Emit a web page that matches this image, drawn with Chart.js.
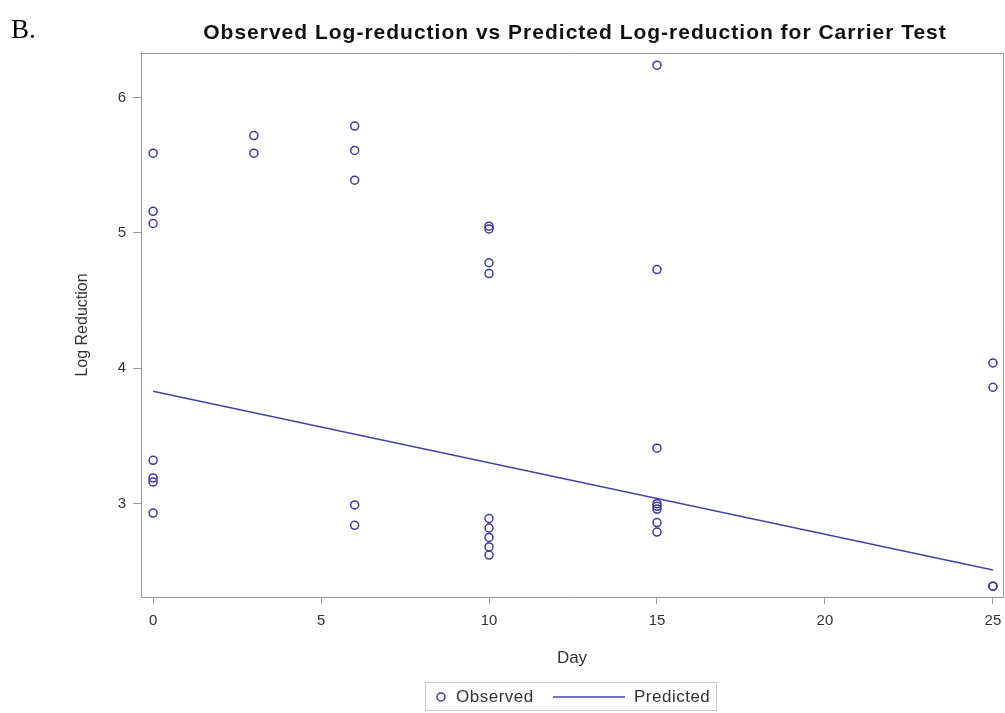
<!DOCTYPE html>
<html><head><meta charset="utf-8">
<script src="https://cdn.jsdelivr.net/npm/chart.js@4"></script>
<style>html,body{margin:0;padding:0;background:#fff}#wrap{width:1005px;height:713px;position:relative}</style>
</head><body><div id="wrap"><canvas id="c" width="1005" height="713"></canvas></div>
<script>
const titleText = "Observed Log-reduction vs Predicted Log-reduction for Carrier Test";
const panelLabel = "B.";
const xAxisTitle = "Day";
const yAxisTitle = "Log Reduction";
const xTickValues = [0, 5, 10, 15, 20, 25];
const yTickValues = [3, 4, 5, 6];
const seriesNames = ["Observed", "Predicted"];

const obsDay = [0, 0, 0, 0, 0, 0, 0,
                3, 3,
                6, 6, 6, 6, 6,
                10, 10, 10, 10, 10, 10, 10, 10, 10,
                15, 15, 15, 15, 15, 15, 15, 15,
                25, 25, 25, 25];
const obsLogRed = [5.59, 5.16, 5.07, 3.32, 3.19, 3.16, 2.93,
                   5.72, 5.59,
                   5.79, 5.61, 5.39, 2.99, 2.84,
                   5.05, 5.03, 4.78, 4.70, 2.89, 2.82, 2.75, 2.68, 2.62,
                   6.24, 4.73, 3.41, 3.00, 2.98, 2.96, 2.86, 2.79,
                   4.04, 3.86, 2.39, 2.39];
const predDay = [0, 25];
const predLogRed = [3.83, 2.51];

const obsColor = '#3a3a9c';
const predColor = '#4343a8';
const axisColor = '#9a9a9a';
const textColor = '#333333';

const decor = {
  id: 'decor',
  afterDraw(chart) {
    const ctx = chart.ctx, a = chart.chartArea;
    ctx.save();
    // frame top and right
    ctx.strokeStyle = axisColor; ctx.lineWidth = 1;
    ctx.beginPath();
    ctx.moveTo(a.left, a.top + 0.5); ctx.lineTo(a.right + 0.5, a.top + 0.5);
    ctx.lineTo(a.right + 0.5, a.bottom);
    ctx.stroke();
    // title
    ctx.fillStyle = '#111';
    ctx.font = 'bold 21px "Liberation Sans", Arial, sans-serif';
    ctx.letterSpacing = '1px';
    ctx.textAlign = 'center'; ctx.textBaseline = 'alphabetic';
    ctx.fillText(titleText, 575, 39);
    ctx.letterSpacing = '0px';
    // panel label
    ctx.font = '27px "Liberation Serif", "Times New Roman", serif';
    ctx.textAlign = 'left';
    ctx.fillStyle = '#000';
    ctx.fillText(panelLabel, 11, 38);
    // legend
    ctx.strokeStyle = '#c8c8c8'; ctx.lineWidth = 1;
    ctx.strokeRect(425.5, 682.5, 291, 28);
    const ly = 697;
    ctx.strokeStyle = obsColor; ctx.lineWidth = 1.5;
    ctx.beginPath(); ctx.arc(441, ly, 4, 0, Math.PI * 2); ctx.stroke();
    ctx.font = '17px "Liberation Sans", Arial, sans-serif';
    ctx.letterSpacing = '0.5px';
    ctx.fillStyle = textColor; ctx.textBaseline = 'middle';
    ctx.fillText(seriesNames[0], 456, ly);
    ctx.strokeStyle = predColor; ctx.lineWidth = 1.5;
    ctx.beginPath(); ctx.moveTo(553, ly); ctx.lineTo(625, ly); ctx.stroke();
    ctx.fillText(seriesNames[1], 634, ly);
    ctx.restore();
  }
};

new Chart(document.getElementById('c'), {
  type: 'scatter',
  data: {
    datasets: [
      {
        label: seriesNames[0],
        data: obsDay.map((d, i) => ({x: d, y: obsLogRed[i]})),
        pointStyle: 'circle', pointRadius: 4, pointBorderWidth: 1.5,
        pointBackgroundColor: 'rgba(0,0,0,0)', pointBorderColor: obsColor,
        showLine: false, order: 2
      },
      {
        label: seriesNames[1],
        data: predDay.map((d, i) => ({x: d, y: predLogRed[i]})),
        showLine: true, borderColor: predColor, borderWidth: 1.5,
        pointRadius: 0, fill: false, order: 1
      }
    ]
  },
  options: {
    responsive: false, animation: false, devicePixelRatio: 1,
    layout: {autoPadding: false, padding: {top: 53, right: 2, bottom: 41, left: 0}},
    plugins: {legend: {display: false}, title: {display: false}, tooltip: {enabled: false}},
    scales: {
      x: {
        type: 'linear', min: -0.36, max: 25.3,
        afterBuildTicks: s => { s.ticks = xTickValues.map(v => ({value: v})); },
        afterFit: s => { s.height = 75; s.paddingLeft = 0; s.paddingRight = 0; },
        grid: {drawOnChartArea: false, drawTicks: true, tickLength: 7, color: axisColor},
        border: {display: true, color: axisColor, width: 1},
        ticks: {font: {family: '"Liberation Sans", Arial, sans-serif', size: 15}, color: textColor, padding: 8, maxRotation: 0, autoSkip: false},
        title: {display: true, text: xAxisTitle, color: textColor, font: {family: '"Liberation Sans", Arial, sans-serif', size: 17}, padding: {top: 0, bottom: 3}}
      },
      y: {
        type: 'linear', min: 2.31, max: 6.33,
        afterBuildTicks: s => { s.ticks = yTickValues.map(v => ({value: v})); },
        afterFit: s => { s.width = 141; },
        grid: {drawOnChartArea: false, drawTicks: true, tickLength: 8, color: axisColor},
        border: {display: true, color: axisColor, width: 1},
        ticks: {font: {family: '"Liberation Sans", Arial, sans-serif', size: 15}, color: textColor, padding: 7, autoSkip: false},
        title: {display: true, text: yAxisTitle, color: textColor, font: {family: '"Liberation Sans", Arial, sans-serif', size: 16}, padding: {top: 73, bottom: 0}}
      }
    }
  },
  plugins: [decor]
});
</script>
</body></html>
